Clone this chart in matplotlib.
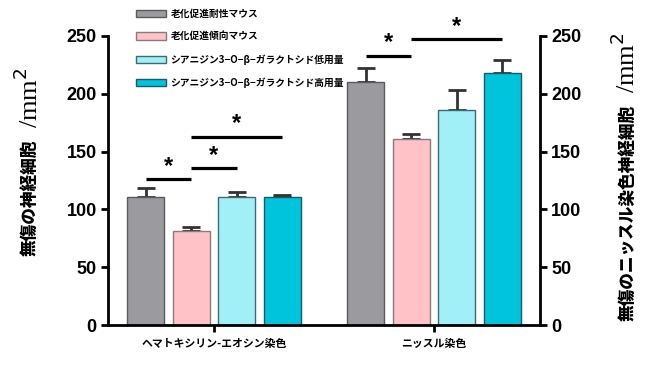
import matplotlib

matplotlib.use("Agg")
import matplotlib.pyplot as plt
import numpy as np
from matplotlib.patches import Patch

plt.rcParams["font.family"] = ["Liberation Sans", "Noto Sans CJK JP", "DejaVu Sans"]
JP = ["Noto Sans CJK JP", "DejaVu Sans"]

groups = ["ヘマトキシリン-エオシン染色", "ニッスル染色"]
series = [
    "老化促進耐性マウス",
    "老化促進傾向マウス",
    "シアニジン3−O−β−ガラクトシド低用量",
    "シアニジン3−O−β−ガラクトシド高用量",
]
colors = ["#9b9a9f", "#ffc2c6", "#a2f0f7", "#00c3dc"]
edges = ["#5a5a5e", "#8a7a7c", "#3c6a70", "#1d5a66"]

# values per series: [H&E, Nissl]
means = [
    [111, 210],
    [81, 161],
    [111, 186],
    [111, 218],
]
errs = [
    [7.5, 12],
    [3.5, 4.5],
    [4.5, 17],
    [1.5, 11.5],
]

# significance bars: (group, bar_a, bar_b, height)
sig = [
    (0, 0, 1, 126),
    (0, 1, 2, 136),
    (0, 1, 3, 163),
    (1, 0, 1, 233),
    (1, 1, 3, 247),
]

group_x = np.array([0, 4.84])
offsets = np.array([-1.5, -0.5, 0.5, 1.5])
width = 0.81

fig = plt.figure(figsize=(6.5, 3.67), dpi=100)
ax = fig.add_axes([0.166, 0.114, 0.665, 0.788])

for i in range(4):
    x = group_x + offsets[i]
    ax.bar(x, means[i], width, color=colors[i], edgecolor=edges[i], linewidth=1, zorder=2)
    ax.errorbar(
        x,
        means[i],
        yerr=[np.zeros(2), errs[i]],
        fmt="none",
        ecolor="#333333",
        elinewidth=2,
        capsize=6.5,
        capthick=2,
        zorder=1,
    )

for g, a, b, h in sig:
    xa = group_x[g] + offsets[a]
    xb = group_x[g] + offsets[b]
    ax.plot([xa, xb], [h, h], color="black", lw=2.3, clip_on=False, solid_capstyle="butt")
    ax.text((xa + xb) / 2, h + 11, "*", ha="center", va="center", fontsize=17,
            fontweight="bold", clip_on=False)

ax.set_ylim(0, 250)
ax.set_xlim(group_x[0] - 2.33, group_x[1] + 2.33)
ax.set_yticks([0, 50, 100, 150, 200, 250])
ax.set_xticks(group_x)
ax.set_xticklabels(groups, family=JP, fontsize=7.8, fontweight="bold")
ax.spines["top"].set_visible(False)
for s in ["left", "right", "bottom"]:
    ax.spines[s].set_linewidth(2)
ax.yaxis.set_ticks_position("both")
ax.tick_params(axis="y", labelright=True, labelsize=13, width=2, length=5, pad=3)
ax.tick_params(axis="x", width=2, length=5, pad=5)
for lab in ax.get_yticklabels():
    lab.set_fontweight("bold")

# axis labels: japanese part + serif unit part
fig.text(0.046, 0.46, "無傷の神経細胞", rotation=90, ha="center", va="center",
         family=JP, fontsize=12, fontweight="black")
fig.text(0.044, 0.735, "/mm$^2$", rotation=90, ha="center", va="center",
         family=["Liberation Serif"], fontsize=19)
fig.text(0.965, 0.42, "無傷のニッスル染色神経細胞", rotation=90, ha="center", va="center",
         family=JP, fontsize=12, fontweight="black")
fig.text(0.963, 0.83, "/mm$^2$", rotation=90, ha="center", va="center",
         family=["Liberation Serif"], fontsize=19)

handles = [Patch(facecolor=c, edgecolor=e, linewidth=1) for c, e in zip(colors, edges)]
fig.legend(
    handles,
    series,
    loc="upper left",
    bbox_to_anchor=(0.195, 1.0),
    frameon=False,
    prop={"family": JP, "size": 7, "weight": "bold"},
    handlelength=3.1,
    handleheight=0.75,
    handletextpad=0.5,
    labelspacing=1.3,
)

fig.savefig("out.png", dpi=100)
